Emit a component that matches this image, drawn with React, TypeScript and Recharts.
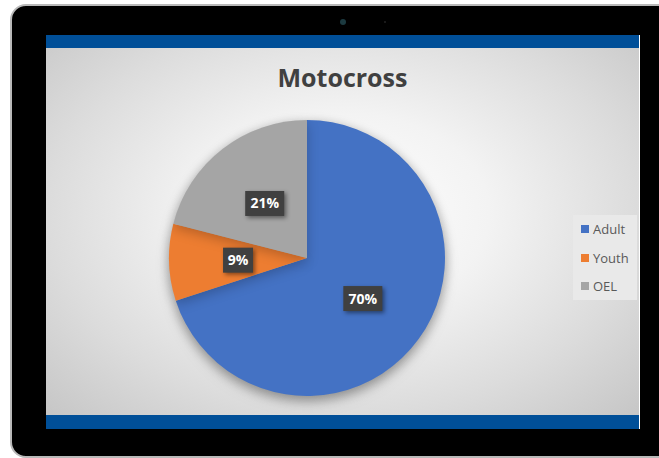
import * as React from 'react';
import { PieChart, Pie, Cell, Legend } from 'recharts';

const categories = ['Adult', 'Youth', 'OEL'];
const shares = [70, 9, 21];
const sliceColors = ['#4472C4', '#ED7D31', '#A5A5A5'];

const data = categories.map((name, i) => ({ name, value: shares[i] }));

const RAD = Math.PI / 180;
const FONT = '"Open Sans", "Liberation Sans", sans-serif';

// dark data-label boxes, Excel style
const renderLabel = (props: any) => {
  const { cx, cy, midAngle, outerRadius, value } = props;
  const r = outerRadius * 0.5;
  const x = cx + r * Math.cos(-midAngle * RAD);
  const y = cy + r * Math.sin(-midAngle * RAD);
  const text = `${value}%`;
  const w = text.length > 2 ? 39 : 30;
  const h = 25;
  return (
    <g>
      <rect
        x={x - w / 2}
        y={y - h / 2}
        width={w}
        height={h}
        fill="#404040"
        style={{ filter: 'drop-shadow(2px 2px 2px rgba(0,0,0,0.45))' }}
      />
      <text
        x={x}
        y={y}
        dy={5}
        textAnchor="middle"
        fill="#ffffff"
        fontFamily={FONT}
        fontWeight={700}
        fontSize={14}
      >
        {text}
      </text>
    </g>
  );
};

const renderLegend = () => (
  <div
    style={{
      width: 64,
      height: 85,
      background: '#e9e9e9',
      boxSizing: 'border-box',
      paddingTop: 0,
    }}
  >
    {categories.map((c, i) => (
      <div
        key={c}
        style={{
          display: 'flex',
          alignItems: 'center',
          height: 28.5,
          paddingLeft: 8,
          fontFamily: FONT,
          fontSize: 13,
          color: '#595959',
        }}
      >
        <span
          style={{
            display: 'inline-block',
            width: 8,
            height: 8,
            background: sliceColors[i],
            marginRight: 4,
          }}
        />
        {c}
      </div>
    ))}
  </div>
);

export default function App() {
  return (
    <div
      style={{
        position: 'absolute',
        left: 0,
        top: 0,
        width: 659,
        height: 458,
        background: '#ffffff',
        overflow: 'hidden',
      }}
    >
      <style>{`.mx-pie { filter: drop-shadow(0 4px 6px rgba(0,0,0,0.22)); }`}</style>
      {/* tablet bezel */}
      <div
        style={{
          position: 'absolute',
          left: 10,
          top: 4,
          width: 720,
          height: 450,
          background: '#000000',
          border: '2px solid #b9b9b9',
          borderRadius: 16,
        }}
      />
      <div
        style={{
          position: 'absolute',
          left: 340,
          top: 19,
          width: 6,
          height: 6,
          borderRadius: 3,
          background: '#1c3a40',
        }}
      />
      <div
        style={{
          position: 'absolute',
          left: 384,
          top: 21,
          width: 2,
          height: 2,
          borderRadius: 1,
          background: '#222',
        }}
      />
      {/* screen */}
      <div
        style={{
          position: 'absolute',
          left: 46,
          top: 35,
          width: 593,
          height: 394,
          background: '#004f98',
          borderRight: '1px solid #ffffff',
        }}
      />
      <div
        style={{
          position: 'absolute',
          left: 46,
          top: 48,
          width: 593,
          height: 367,
          background:
            'radial-gradient(ellipse at 50% 45%, #ffffff 0%, #f3f3f3 35%, #dcdcdc 70%, #c6c6c6 100%)',
        }}
      >
        <div
          style={{
            position: 'absolute',
            left: 0,
            top: 12,
            width: 593,
            textAlign: 'center',
            fontFamily: FONT,
            fontWeight: 700,
            fontSize: 25,
            color: '#404040',
          }}
        >
          Motocross
        </div>
        <PieChart
          width={593}
          height={367}
          margin={{ top: 0, right: 0, bottom: 0, left: 0 }}
          style={{ position: 'absolute', left: 0, top: 0 }}
        >
          <Pie
            data={data}
            dataKey="value"
            nameKey="name"
            cx={261}
            cy={210}
            outerRadius={138}
            startAngle={90}
            endAngle={-270}
            stroke="none"
            label={renderLabel}
            labelLine={false}
            className="mx-pie"
            isAnimationActive={false}
          >
            {data.map((d, i) => (
              <Cell key={d.name} fill={sliceColors[i]} />
            ))}
          </Pie>
          <Legend
            layout="vertical"
            align="right"
            verticalAlign="top"
            content={renderLegend}
            wrapperStyle={{ position: 'absolute', left: 527, top: 167, width: 64 }}
          />
        </PieChart>
      </div>
    </div>
  );
}
